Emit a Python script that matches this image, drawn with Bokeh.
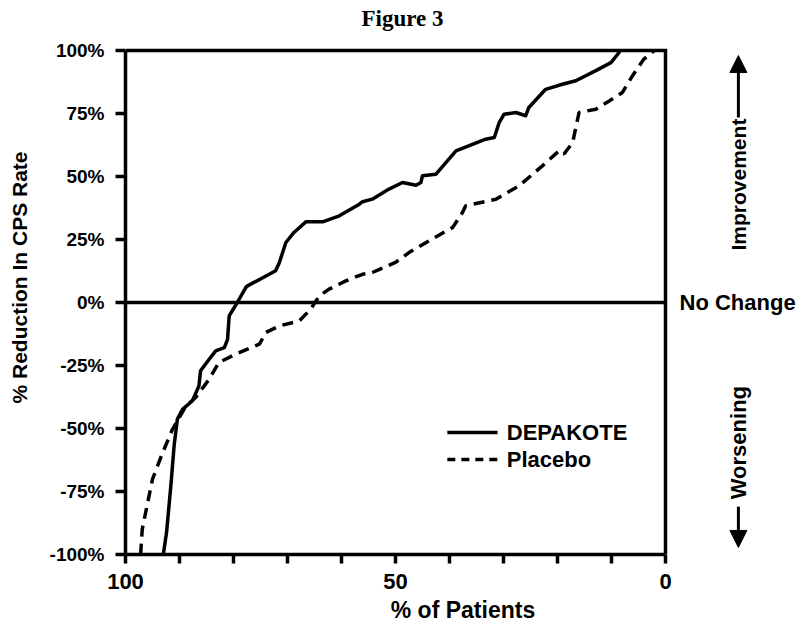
import math
from bokeh.plotting import figure
from bokeh.models import Range1d, FixedTicker, Label, Arrow, NormalHead, PrintfTickFormatter
from bokeh.embed import file_html
from bokeh.resources import INLINE

# ---------------- data ----------------
dep_x = [93.0, 92.4, 91.6, 91.0, 90.4, 89.4, 87.6, 86.4, 86.1, 84.5, 83.3, 81.7, 81.1, 80.8,
         79.3, 77.7, 77.4, 72.2, 71.5, 70.3, 68.8, 66.6, 63.5, 60.4, 56.7, 56.1, 54.3, 51.2,
         48.7, 46.2, 45.3, 45.0, 42.5, 38.8, 33.3, 31.7, 30.8, 29.9, 27.7, 25.9, 25.3, 22.2,
         19.1, 16.6, 12.9, 10.1, 8.6, 8.5]
dep_y = [-100, -91.3, -72.7, -56.9, -46.3, -42.3, -39, -33.1, -27.1, -22.5, -19.2, -17.9, -14.6, -5.3,
         0, 6, 6.6, 12.6, 15.9, 23.8, 27.8, 32.0, 32.0, 34.4, 39.0, 40.0, 41.0, 45.0,
         47.6, 46.5, 47.6, 50.3, 50.9, 60.2, 64.8, 65.5, 71.4, 74.7, 75.4, 74.1, 77.4, 84.6,
         86.6, 88, 92, 95.2, 99.2, 100]

pla_x = [97.2, 96.9, 95.0, 93.1, 91.3, 88.8, 87.0, 84.5, 82.7, 79.6, 75.2, 74.0, 71.5, 67.8,
         65.7, 64.1, 62.3, 59.2, 56.1, 54.3, 50.0, 47.5, 43.8, 39.4, 37.6, 37.0, 31.4, 27.1,
         22.8, 19.7, 18.8, 17.2, 16.0, 12.9, 10.4, 8.0, 6.1, 4.0, 2.1]
pla_y = [-100, -90, -70.1, -59.5, -50.3, -41, -37.7, -30.4, -23.8, -20.5, -16.5, -11.9, -9.3, -7.3,
         -2.6, 2.6, 5.3, 8.6, 11.2, 11.9, 15.9, 19.8, 24.5, 29.8, 35.7, 38.4, 41, 46.3,
         54.2, 60.2, 58.9, 63.5, 75.4, 76.7, 80, 83.3, 90, 96.6, 99.9]

x_ticks = [0, 10, 20, 30, 40, 50, 60, 70, 80, 90, 100]
x_labeled = [0, 50, 100]
y_ticks = [-100, -75, -50, -25, 0, 25, 50, 75, 100]

series_names = ["DEPAKOTE", "Placebo"]

X_MIN, X_MAX = 0, 100
Y_MIN, Y_MAX = -100, 100

FONT = "Liberation Sans"
SERIF = "Liberation Serif"

# frame covers the right-hand annotation area and the title area too;
# the axes are bounded to the real data ranges
p = figure(width=800, height=630, output_backend="svg", toolbar_location=None,
           x_range=Range1d(X_MAX, -25), y_range=Range1d(Y_MIN, 119.84),
           min_border_left=125, min_border_right=0, min_border_top=0, min_border_bottom=76)

p.xgrid.visible = False
p.ygrid.visible = False
p.outline_line_color = None

for ax in (p.xaxis[0], p.yaxis[0]):
    ax.axis_line_width = 3.5
    ax.axis_line_color = "black"
    ax.major_tick_line_width = 3.5
    ax.major_tick_line_color = "black"
    ax.major_tick_in = 0
    ax.minor_tick_line_color = None
    ax.major_label_text_font = FONT
    ax.major_label_text_font_style = "bold"
    ax.major_label_text_color = "black"
    ax.axis_label_text_font = FONT
    ax.axis_label_text_font_style = "bold"
    ax.axis_label_text_color = "black"

p.xaxis.bounds = (X_MIN, X_MAX)
p.xaxis.ticker = FixedTicker(ticks=x_ticks)
p.xaxis.major_label_overrides = {t: ("" if t not in x_labeled else str(t)) for t in x_ticks}
p.xaxis.major_tick_out = 9
p.xaxis.major_label_standoff = 10
p.xaxis.major_label_text_font_size = "22px"
p.xaxis.axis_label = "% of Patients"
p.xaxis.axis_label_text_font_size = "23px"
p.xaxis.axis_label_standoff = 5

p.yaxis.bounds = (Y_MIN, Y_MAX)
p.yaxis.ticker = FixedTicker(ticks=y_ticks)
p.yaxis.formatter = PrintfTickFormatter(format="%d%%")
p.yaxis.major_tick_out = 10
p.yaxis.major_label_standoff = 11
p.yaxis.major_label_text_font_size = "19px"
p.yaxis.axis_label = "% Reduction In CPS Rate"
p.yaxis.axis_label_text_font_size = "21px"
p.yaxis.axis_label_standoff = 16

# top and right borders of the plot box
p.line([X_MAX, X_MIN, X_MIN], [Y_MAX, Y_MAX, Y_MIN], line_color="black", line_width=3.5,
       line_join="miter")
# no change line
p.line([X_MAX, X_MIN], [0, 0], line_color="black", line_width=3.5)

# data lines
p.line(dep_x, dep_y, line_color="black", line_width=3.5, line_join="round")
p.line(pla_x, pla_y, line_color="black", line_width=3.5, line_dash="11 7")

# legend (manual)
p.line([40.4, 31.1], [-51.6, -51.6], line_color="black", line_width=3.5)
p.line([40.4, 31.1], [-62.3, -62.3], line_color="black", line_width=3.5, line_dash="8 6")
p.add_layout(Label(x=29.4, y=-51.6, text=series_names[0], text_font=FONT,
                   text_font_style="bold", text_font_size="22px", text_color="black",
                   text_align="left", text_baseline="middle"))
p.add_layout(Label(x=29.4, y=-62.3, text=series_names[1], text_font=FONT,
                   text_font_style="bold", text_font_size="22px", text_color="black",
                   text_align="left", text_baseline="middle"))

# title
p.add_layout(Label(x=48.7, y=112.5, text="Figure 3", text_font=SERIF,
                   text_font_style="bold", text_font_size="23px", text_color="black",
                   text_align="center", text_baseline="alphabetic"))

# right-side annotations
p.add_layout(Label(x=-2.6, y=0, text="No Change", text_font=FONT,
                   text_font_style="bold", text_font_size="22px", text_color="black",
                   text_align="left", text_baseline="middle"))
p.add_layout(Label(x=-13.5, y=46.8, text="Improvement", angle=math.pi / 2, text_font=FONT,
                   text_font_style="bold", text_font_size="21px", text_color="black",
                   text_align="center", text_baseline="middle"))
p.add_layout(Label(x=-13.5, y=-55.6, text="Worsening", angle=math.pi / 2, text_font=FONT,
                   text_font_style="bold", text_font_size="22px", text_color="black",
                   text_align="center", text_baseline="middle"))
p.add_layout(Arrow(end=NormalHead(size=17, fill_color="black", line_color="black"),
                   x_start=-13.5, y_start=73.4, x_end=-13.5, y_end=98.0,
                   line_width=3, line_color="black"))
p.add_layout(Arrow(end=NormalHead(size=17, fill_color="black", line_color="black"),
                   x_start=-13.5, y_start=-81.0, x_end=-13.5, y_end=-97.2,
                   line_width=3, line_color="black"))

open("out.html", "w").write(file_html(p, INLINE))
